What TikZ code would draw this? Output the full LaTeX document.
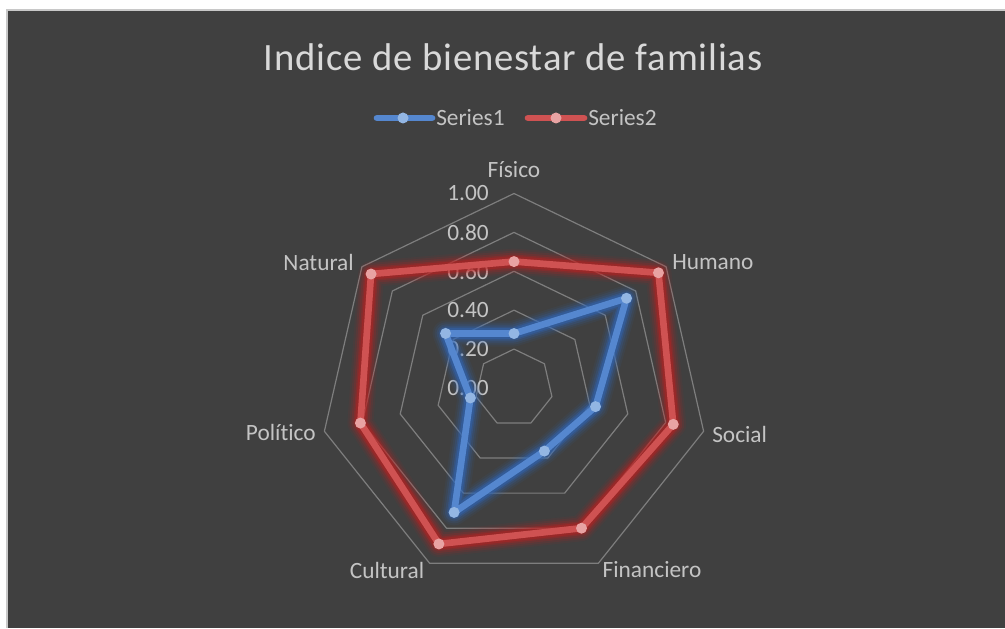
\documentclass[tikz,border=0pt]{standalone}
\usepackage{fontspec}
\setmainfont{Carlito}[Ligatures=NoCommon]
\newfontfamily\titlefont{Carlito}[LetterSpace=2.2]
\usetikzlibrary{positioning}

\definecolor{chartbg}{HTML}{404040}
\definecolor{chartframe}{HTML}{C8C8C8}
\definecolor{gridgray}{HTML}{7E7E7E}
\definecolor{lblgray}{HTML}{C4C4C4}
\definecolor{titlegray}{HTML}{D9D9D9}
\definecolor{blueline}{HTML}{5587CF}
\definecolor{blueglow}{HTML}{2F68BC}
\definecolor{bluemark}{HTML}{93B6E3}
\definecolor{redline}{HTML}{CF5252}
\definecolor{redglow}{HTML}{BE2020}
\definecolor{redmark}{HTML}{E8A3A3}

\newcommand{\lblfont}{\fontsize{17.5}{17.5}\selectfont}

\begin{document}
\begin{tikzpicture}[x=0.75pt, y=0.75pt,
	ring/.style={draw=gridgray, line width=0.9pt, line join=round},
	ticklbl/.style={anchor=east, inner sep=0pt, text=lblgray, font=\lblfont},
	catlbl/.style={inner sep=0pt, text=lblgray, font=\lblfont},
	serline/.style={line width=5pt, line join=round, line cap=round}]
	\useasboundingbox (0,0) rectangle (1005,628);
	\fill[white] (0,0) rectangle (1005,628);
	\fill[chartbg] (7,0) rectangle (1005,618);
	\draw[chartframe, line width=0.8pt] (7,0) -- (7,618) -- (1005,618);

	% title and legend
	\node[text=titlegray, font=\titlefont\fontsize{29}{29}\selectfont] (title) at (513,571) {Indice de bienestar de familias};
	\coordinate (l1a) at (377,510);
	\coordinate (l1b) at (432,510);
	\coordinate (l2a) at (528,510);
	\coordinate (l2b) at (584,510);
	\draw[blueline, serline] (l1a) -- (l1b);
	\fill[bluemark] (403,510) circle (5.5);
	\node[catlbl, anchor=west] (leg1) at (436,510) {Series1};
	\draw[redline, serline] (l2a) -- (l2b);
	\fill[redmark] (556,510) circle (5.5);
	\node[catlbl, anchor=west] (leg2) at (588,510) {Series2};

	% grid
	\coordinate (O) at (514,240);
	\foreach \r in {1,...,5} {
		\draw[ring] ([shift={(90:\r*38.9)}]O)
			\foreach \k in {1,...,6} { -- ([shift={(90-\k*360/7:\r*38.9)}]O) } -- cycle;
	}
	\foreach \r/\t in {0/0.00,1/0.20,2/0.40,3/0.60,4/0.80,5/1.00}
		\node[ticklbl] (t\r) at (489,240+\r*38.9) {\t};

	% categories
	\node[catlbl] (fis) at (514,458) {Físico};
	\node[catlbl, anchor=west] (hum) at (672,366) {Humano};
	\node[catlbl, anchor=west] (soc) at (712,194) {Social};
	\node[catlbl] (fin) at (652,58) {Financiero};
	\node[catlbl] (cul) at (387,58) {Cultural};
	\node[catlbl, anchor=east] (pol) at (316,196) {Político};
	\node[catlbl, anchor=east] (nat) at (354,366) {Natural};

	% series points
	\foreach \v [count=\k from 0] in {0.28,0.74,0.43,0.36,0.71,0.23,0.45}
		\coordinate (b\k) at ([shift={(90-\k*360/7:\v*194.5)}]O);
	\foreach \v [count=\k from 0] in {0.65,0.95,0.84,0.80,0.89,0.81,0.94}
		\coordinate (r\k) at ([shift={(90-\k*360/7:\v*194.5)}]O);

	% Series1
	\foreach \w/\o in {26/0.08,22/0.12,18/0.18,14/0.28,11/0.4} {
		\draw[blueglow, line width=\w*0.75pt, line join=round, opacity=\o]
			(b0) -- (b1) -- (b2) -- (b3) -- (b4) -- (b5) -- (b6) -- cycle;
	}
	\draw[blueline, serline] (b0) -- (b1) -- (b2) -- (b3) -- (b4) -- (b5) -- (b6) -- cycle;
	\foreach \k in {0,...,6}
		\fill[bluemark] (b\k) circle (5.5);

	% Series2
	\foreach \w/\o in {26/0.08,22/0.12,18/0.18,14/0.28,11/0.4} {
		\draw[redglow, line width=\w*0.75pt, line join=round, opacity=\o]
			(r0) -- (r1) -- (r2) -- (r3) -- (r4) -- (r5) -- (r6) -- cycle;
	}
	\draw[redline, serline] (r0) -- (r1) -- (r2) -- (r3) -- (r4) -- (r5) -- (r6) -- cycle;
	\foreach \k in {0,...,6}
		\fill[redmark] (r\k) circle (5.5);
\end{tikzpicture}
\end{document}
